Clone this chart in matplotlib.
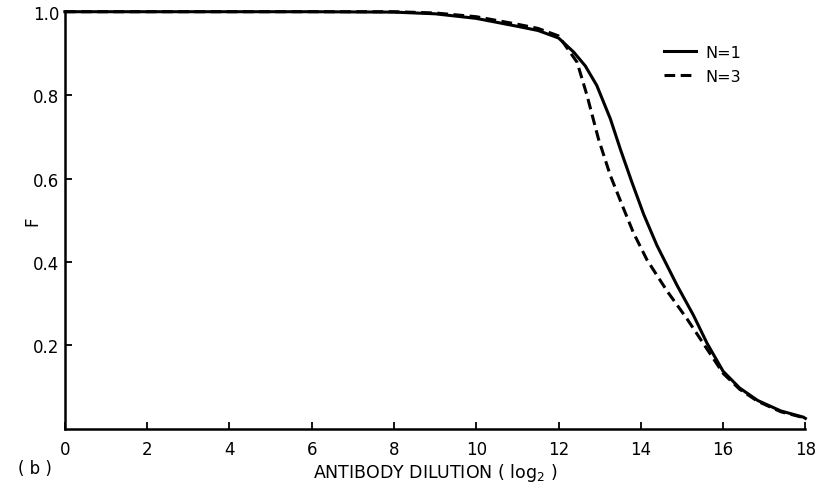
import matplotlib.pyplot as plt
import matplotlib.ticker as ticker

# fraction F vs antibody dilution (log2), for N=1 and N=3
x_n1 = [0, 2, 4, 6, 8, 9, 10, 11, 11.5, 12, 12.37, 12.65, 12.93, 13.26, 13.5,
        13.78, 14.07, 14.39, 14.88, 15.28, 15.61, 16.0, 16.4, 16.84, 17.4, 17.95, 18]
f_n1 = [1.0, 1.0, 1.0, 1.0, 0.999, 0.995, 0.984, 0.965, 0.955, 0.937, 0.903, 0.87,
        0.823, 0.743, 0.671, 0.592, 0.514, 0.44, 0.344, 0.272, 0.205, 0.138, 0.098,
        0.068, 0.043, 0.028, 0.025]

x_n3 = [0, 2, 4, 6, 8, 9, 10, 11, 11.5, 12, 12.45, 12.69, 12.97, 13.26, 13.58,
        13.82, 14.15, 14.64, 15.12, 15.53, 16.0, 16.4, 16.84, 17.4, 17.95, 18]
f_n3 = [1.0, 1.0, 1.0, 1.0, 1.0, 0.997, 0.988, 0.97, 0.96, 0.942, 0.879, 0.80,
        0.695, 0.607, 0.528, 0.47, 0.405, 0.33, 0.264, 0.203, 0.133, 0.095, 0.066,
        0.041, 0.027, 0.024]

x_ticks = list(range(0, 19, 2))
y_ticks = [0.2, 0.4, 0.6, 0.8, 1.0]

plt.rcParams['font.family'] = ['DejaVu Sans']

fig = plt.figure(figsize=(8.21, 4.89), dpi=100)
ax = fig.add_axes([0.079, 0.121, 0.902, 0.853])

ax.plot(x_n1, f_n1, color='black', lw=2.2, ls='-', label='N=1', clip_on=False)
ax.plot(x_n3, f_n3, color='black', lw=2.2, ls=(0, (3.5, 1.8)), label='N=3', clip_on=False)

ax.set_xlim(0, 18)
ax.set_ylim(0, 1.0)
ax.xaxis.set_major_locator(ticker.FixedLocator(x_ticks))
ax.yaxis.set_major_locator(ticker.FixedLocator(y_ticks))
ax.xaxis.set_major_formatter(ticker.FormatStrFormatter('%d'))
ax.yaxis.set_major_formatter(ticker.FormatStrFormatter('%.1f'))

for side in ['top', 'right']:
    ax.spines[side].set_visible(False)
for side in ['left', 'bottom']:
    ax.spines[side].set_linewidth(1.8)

ax.tick_params(direction='in', length=5, width=1.3, labelsize=12, pad=8)
ax.tick_params(axis='y', pad=4)

ax.set_ylabel('F', fontsize=12, labelpad=-6)
ax.set_xlabel('ANTIBODY DILUTION ( log$_2$ )', fontsize=12.5, labelpad=2)
fig.text(0.022, 0.03, '( b )', fontsize=12)

leg = ax.legend(loc='upper left', bbox_to_anchor=(0.79, 0.955), frameon=False,
                fontsize=11.5, handlelength=2.0, handletextpad=0.6, labelspacing=0.55)

fig.savefig('out.png', dpi=100)
